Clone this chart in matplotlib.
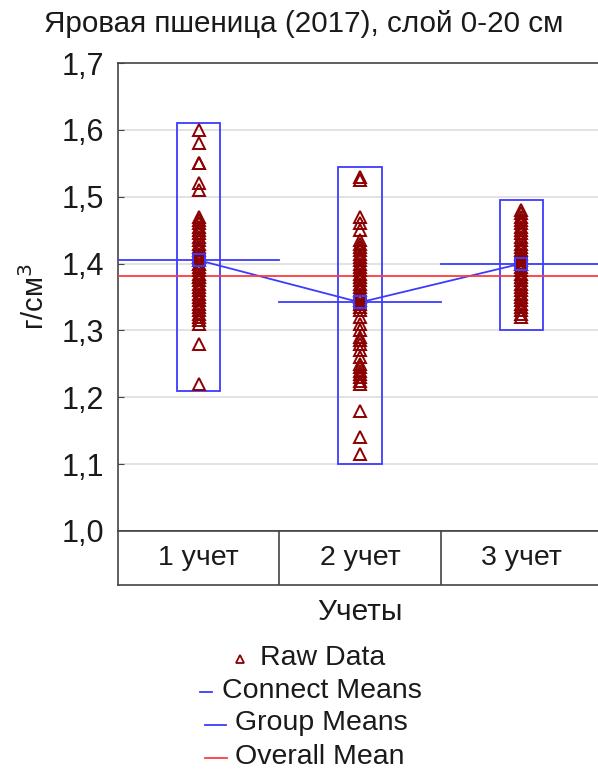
import numpy as np
import matplotlib.pyplot as plt
from matplotlib.lines import Line2D

plt.rcParams['font.family'] = ['Liberation Sans', 'DejaVu Sans']

# Data
categories = ["1 учет", "2 учет", "3 учет"]
raw_1 = [1.60, 1.58, 1.55, 1.55, 1.52, 1.51, 1.47, 1.465, 1.46, 1.455, 1.45, 1.445,
         1.44, 1.435, 1.43, 1.425, 1.42, 1.415, 1.41, 1.41, 1.405, 1.40, 1.40, 1.395,
         1.39, 1.385, 1.38, 1.38, 1.375, 1.37, 1.365, 1.36, 1.355, 1.35, 1.345, 1.34,
         1.335, 1.33, 1.325, 1.32, 1.315, 1.31, 1.28, 1.22]
raw_2 = [1.53, 1.525, 1.47, 1.46, 1.45, 1.435, 1.43, 1.425, 1.42, 1.415, 1.41, 1.405,
         1.40, 1.395, 1.39, 1.385, 1.38, 1.375, 1.37, 1.365, 1.36, 1.355, 1.35, 1.345,
         1.34, 1.335, 1.33, 1.32, 1.31, 1.30, 1.29, 1.285, 1.28, 1.27, 1.26, 1.25,
         1.245, 1.24, 1.235, 1.23, 1.225, 1.22, 1.18, 1.14, 1.115]
raw_3 = [1.48, 1.475, 1.47, 1.465, 1.46, 1.455, 1.45, 1.445, 1.44, 1.435, 1.43, 1.425,
         1.42, 1.415, 1.41, 1.405, 1.40, 1.40, 1.395, 1.39, 1.385, 1.38, 1.375, 1.37,
         1.365, 1.36, 1.355, 1.35, 1.345, 1.34, 1.335, 1.33, 1.325, 1.32]
raw_data = [raw_1, raw_2, raw_3]
group_means = [1.405, 1.342, 1.400]
box_low = [1.21, 1.10, 1.30]
box_high = [1.61, 1.545, 1.495]
overall_mean = 1.381

yticks = [1.0, 1.1, 1.2, 1.3, 1.4, 1.5, 1.6, 1.7]

blue = '#3c3cff'
red = '#ff3c3c'
maroon = '#8b0000'
spine_c = '#444444'
txt_c = '#1a1a1a'
fs = 21

fig = plt.figure(figsize=(5.98, 7.76), dpi=100)
ax = fig.add_axes([118 / 598, 245 / 776, 484 / 598, 468 / 776])

x = np.arange(len(categories))
ax.set_xlim(-0.5, 2.5)
ax.set_ylim(1.0, 1.7)

for v in yticks[1:-1]:
    ax.axhline(v, color='#dedede', lw=1.2, zorder=0)

# range boxes
bw = 0.135
for i in x:
    ax.add_patch(plt.Rectangle((i - bw, box_low[i]), 2 * bw, box_high[i] - box_low[i],
                               fill=False, ec=blue, lw=1.3, zorder=2))

# group mean lines
for i in x:
    ax.plot([i - 0.5, i + 0.5], [group_means[i]] * 2, color=blue, lw=1.3, zorder=3)
ax.plot(x, group_means, color=blue, lw=1.3, zorder=3)
ax.axhline(overall_mean, color=red, lw=1.3, zorder=3)

for i in x:
    ax.plot([i] * len(raw_data[i]), raw_data[i], linestyle='none', marker='^',
            ms=8.5, mfc='none', mec=maroon, mew=1.4, zorder=4)
ax.plot(x, group_means, linestyle='none', marker='s', ms=9, mfc='none',
        mec=blue, mew=1.4, zorder=5)

ax.set_yticks(yticks)
ax.set_yticklabels([f"{v:.1f}".replace('.', ',') for v in yticks], fontsize=22,
                   color=txt_c)
ax.tick_params(axis='y', direction='in', length=4, pad=10, color=spine_c)
ax.set_xticks([])
for s in ax.spines.values():
    s.set_color(spine_c)
    s.set_linewidth(1.2)
ax.set_ylabel("г/см$^3$", fontsize=fs, labelpad=8, color=txt_c)
fig.text(304 / 598, 1 - 24 / 776, "Яровая пшеница (2017), слой 0-20 см",
         ha='center', va='center', fontsize=21.3, color=txt_c)

# category band
cax = fig.add_axes([118 / 598, 191 / 776, 484 / 598, 54 / 776])
cax.set_xlim(-0.5, 2.5)
cax.set_ylim(0, 1)
cax.set_xticks([])
cax.set_yticks([])
for s in cax.spines.values():
    s.set_color(spine_c)
    s.set_linewidth(1.2)
for i in x[:-1]:
    cax.axvline(i + 0.5, color=spine_c, lw=1.2)
for i, c in enumerate(categories):
    cax.text(i, 0.5, c, ha='center', va='center', fontsize=20.5, color=txt_c)

fig.text(360 / 598, 1 - 612 / 776, "Учеты", ha='center', va='center',
         fontsize=21.5, color=txt_c)

# legend
rows = [("Raw Data", 260, 658), ("Connect Means", 222, 691),
        ("Group Means", 235, 723), ("Overall Mean", 235, 757)]
for label, tx, ty in rows:
    fig.text(tx / 598, 1 - ty / 776, label, ha='left', va='center',
             fontsize=20.5, color=txt_c)
fig.add_artist(Line2D([240 / 598], [1 - 659 / 776], marker='^', ms=5.5, mfc='none',
                      mec=maroon, mew=1.3, linestyle='none'))
fig.add_artist(Line2D([200 / 598, 212 / 598], [1 - 692 / 776] * 2, color=blue, lw=1.3))
fig.add_artist(Line2D([205 / 598, 226 / 598], [1 - 725 / 776] * 2, color=blue, lw=1.3))
fig.add_artist(Line2D([205 / 598, 227 / 598], [1 - 758 / 776] * 2, color=red, lw=1.3))

fig.savefig("out.png", dpi=100)
